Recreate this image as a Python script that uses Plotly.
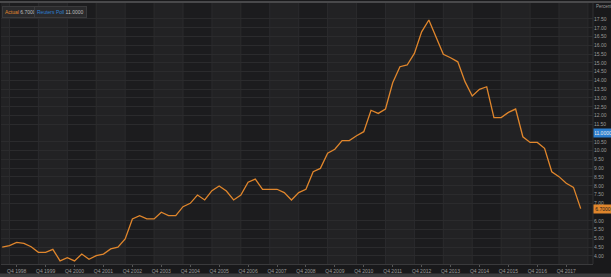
import plotly.graph_objects as go

# ---- data ----
quarters = []
for y in range(1998, 2019):
    for q in range(1, 5):
        if (y == 1998 and q < 2) or (y == 2018 and q > 2):
            continue
        quarters.append(f"Q{q} {y}")

actual = [4.50, 4.59, 4.78,
          4.72, 4.53, 4.21, 4.21,
          4.38, 3.72, 3.90, 3.72,
          4.11, 3.81, 4.02, 4.11,
          4.40, 4.50, 4.97, 6.11,
          6.30, 6.11, 6.11, 6.49,
          6.30, 6.30, 6.81, 7.00,
          7.47, 7.19, 7.72, 7.99,
          7.70, 7.19, 7.47, 8.20,
          8.38, 7.80, 7.80, 7.80,
          7.61, 7.19, 7.61, 7.80,
          8.80, 8.99, 9.85, 10.08,
          10.57, 10.57, 10.85, 11.08,
          12.30, 12.12, 12.37, 13.87,
          14.78, 14.88, 15.54, 16.77,
          17.44, 16.45, 15.49, 15.29,
          15.06, 13.93, 13.11, 13.49,
          13.64, 11.88, 11.88, 12.18,
          12.37, 10.79, 10.47, 10.47,
          10.13, 8.80, 8.52, 8.14,
          7.91, 6.70]
poll_value = 11.0
actual_last = 6.70
tick_years = list(range(1998, 2018))
ytick_vals = [v / 2 for v in range(8, 36) if v / 2 not in (6.5, 11.0)]

# quarter index relative to Q4 1998
def qidx(label):
    q, y = label.split()
    return (int(y) - 1998) * 4 + int(q[1]) - 4

xs = [qidx(l) for l in quarters]

BG = "#1c1c1e"
LIGHT = "#222224"
GRID = "#2b2b2d"
ORANGE = "#e0862c"
BLUE = "#2c7fd0"
TXT = "#9a9a9a"

fig = go.Figure()
fig.add_trace(go.Scatter(x=xs, y=actual, mode="lines",
                         line=dict(color=ORANGE, width=1.3),
                         hoverinfo="skip", showlegend=False))

shapes = []
for yr in range(1997, 2019):
    k = yr - 1998
    x0, x1 = 4 * k - 1, 4 * k + 3
    if yr % 2 == 1:
        shapes.append(dict(type="rect", xref="x", yref="paper", x0=x0, x1=x1,
                           y0=0, y1=1, fillcolor=LIGHT, line_width=0, layer="below"))
    shapes.append(dict(type="line", xref="x", yref="paper", x0=x0, x1=x0,
                       y0=0, y1=1, line=dict(color=GRID, width=1), layer="below"))
# top light border
shapes.append(dict(type="line", xref="paper", yref="paper", x0=-0.01, x1=1.04,
                   y0=1.004, y1=1.004, line=dict(color="#5a5a5c", width=1.5)))
# right axis separator
shapes.append(dict(type="line", xref="paper", yref="paper", x0=1, x1=1,
                   y0=0, y1=1, line=dict(color="#303032", width=1)))
# bottom grey strip
shapes.append(dict(type="rect", xref="paper", yref="paper", x0=-0.01, x1=1.04,
                   y0=-0.036, y1=-0.06, fillcolor="#3c3c3e", line_width=0))

fnt = "Liberation Sans, Arial, sans-serif"
annotations = [
    dict(xref="paper", yref="paper", x=0.002, y=0.988, xanchor="left", yanchor="top",
         text=f"<span style='color:{ORANGE}'>Actual</span> {actual_last:.4f}",
         showarrow=False, font=dict(size=5, color="#bdbdbd", family=fnt),
         bgcolor="#2a2a2c", bordercolor="#3a3a3c", borderwidth=1, borderpad=2),
    dict(xref="paper", yref="paper", x=0.055, y=0.988, xanchor="left", yanchor="top",
         text=f"<span style='color:{BLUE}'>Reuters Poll</span> {poll_value:.4f}",
         showarrow=False, font=dict(size=5, color="#bdbdbd", family=fnt),
         bgcolor="#2a2a2c", bordercolor="#3a3a3c", borderwidth=1, borderpad=2),
    dict(xref="paper", yref="paper", x=1.0, xshift=1, y=0.985, xanchor="left",
         yanchor="middle", text="Percent", showarrow=False,
         font=dict(size=4.5, color=TXT, family=fnt)),
    dict(xref="paper", yref="y", x=1.0, y=actual_last, xanchor="left", yanchor="middle",
         text=f"{actual_last:.4f}", showarrow=False,
         font=dict(size=5, color="#1a1a1a", family=fnt), bgcolor=ORANGE, borderpad=1,
         width=16),
    dict(xref="paper", yref="y", x=1.0, y=poll_value, xanchor="left", yanchor="middle",
         text=f"{poll_value:.4f}", showarrow=False,
         font=dict(size=5, color="#e8e8e8", family=fnt), bgcolor=BLUE, borderpad=1,
         width=16),
]

fig.update_layout(
    width=611, height=277,
    margin=dict(l=1, r=18, t=3, b=13),
    paper_bgcolor="#19191b", plot_bgcolor=BG,
    font=dict(family=fnt, size=5, color=TXT),
    shapes=shapes, annotations=annotations,
    xaxis=dict(range=[-2.17, 79.7], tickvals=[(y - 1998) * 4 for y in tick_years],
               ticktext=[f"Q4 {y}" for y in tick_years], showgrid=False,
               ticks="outside", ticklen=2, tickcolor="#555", zeroline=False,
               showline=True, linecolor="#3a3a3c", tickfont=dict(size=5, color=TXT),
               fixedrange=True),
    yaxis=dict(range=[3.544, 18.41], side="right", tickvals=ytick_vals,
               ticktext=[f"{v:.2f}" for v in ytick_vals], showgrid=True,
               gridcolor=GRID, gridwidth=1, zeroline=False,
               tickfont=dict(size=5, color=TXT), fixedrange=True),
)

fig.write_html("out.html")
